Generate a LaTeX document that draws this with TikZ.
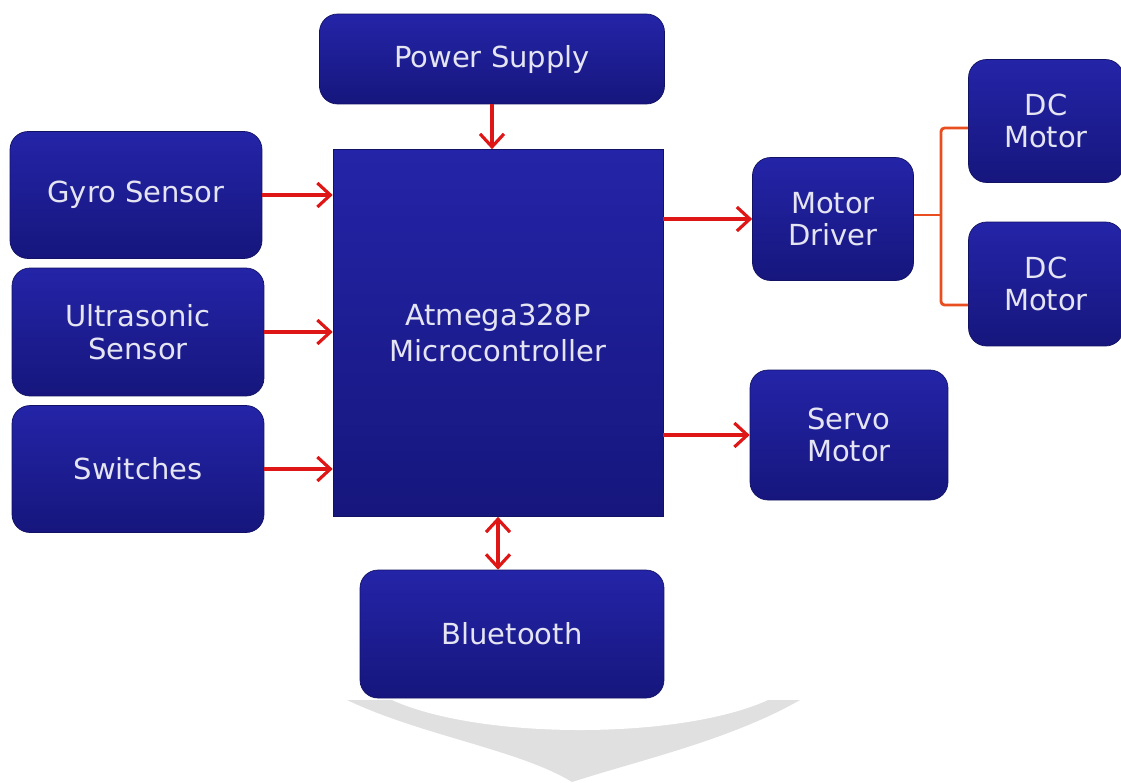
\documentclass[tikz,border=0pt]{standalone}
\usepackage{fontspec}
\setmainfont{DejaVu Sans}
\usepackage{tikz}
\usetikzlibrary{positioning,arrows.meta}

\definecolor{boxtop}{RGB}{36,36,168}
\definecolor{boxbot}{RGB}{22,22,125}
\definecolor{boxtext}{RGB}{228,228,242}
\definecolor{arrowred}{RGB}{222,22,22}
\definecolor{wireorange}{RGB}{232,78,32}

\begin{document}
\begin{tikzpicture}[
			x=0.02cm, y=-0.02cm,
			block/.style={
					draw=boxbot!80!black,
					rounded corners=0.36cm,
					top color=boxtop,
					bottom color=boxbot,
					text=boxtext,
					align=center,
					font=\fontsize{16.5}{18.5}\selectfont,
					inner sep=0pt
				},
			barb/.tip={Straight Barb[length=2.6mm,width=4.8mm,line width=1.8pt]},
			flow/.style={
					draw=arrowred,
					line width=1.8pt,
					-barb
				},
			wire/.style={
					draw=wireorange,
					line width=1.6pt,
					rounded corners=2pt
				}
		]

		\useasboundingbox (0,0) rectangle (1121,782);

		% shadow under the page
		\fill[black!12] (347,700) -- (800,700)
			.. controls (730,740) and (640,760) .. (572,782)
			.. controls (520,750) and (420,735) .. (347,700) -- cycle;
		\fill[white] (392,700) .. controls (480,740) and (680,740) .. (768,700) -- cycle;

		\node (power) [block, minimum width=6.9cm, minimum height=1.8cm]
		at (492,59) {Power Supply};

		\node (mcu) [block, rounded corners=0pt,
			minimum width=6.6cm, minimum height=7.34cm]
		at (498,333) {Atmega328P\\[2pt]Microcontroller};

		\node (gyro) [block, minimum width=5.04cm, minimum height=2.54cm]
		at (136,195) {Gyro Sensor};

		\node (ultra) [block, minimum width=5.04cm, minimum height=2.56cm]
		at (138,332) {Ultrasonic\\Sensor};

		\node (switches) [block, minimum width=5.04cm, minimum height=2.54cm]
		at (138,469) {Switches};

		\node (driver) [block, minimum width=3.22cm, minimum height=2.46cm]
		at (833,219) {Motor\\Driver};

		\node (dcone) [block, minimum width=3.1cm, minimum height=2.46cm]
		at (1046,121) {DC\\Motor};

		\node (dctwo) [block, minimum width=3.1cm, minimum height=2.48cm]
		at (1046,284) {DC\\Motor};

		\node (servo) [block, minimum width=3.96cm, minimum height=2.6cm]
		at (849,435) {Servo\\Motor};

		\node (bt) [block, minimum width=6.08cm, minimum height=2.56cm]
		at (512,634) {Bluetooth};

		\coordinate (split) at (941,215);

		\draw[flow] (power) -- (power |- mcu.north);
		\draw[flow] (gyro) -- (mcu.west |- gyro);
		\draw[flow] (ultra) -- (mcu.west |- ultra);
		\draw[flow] (switches) -- (mcu.west |- switches);
		\draw[flow] (mcu.east |- driver) -- (driver);
		\draw[flow] (mcu.east |- servo) -- (servo);
		\draw[flow, barb-barb] (mcu.south) -- (mcu.south |- bt.north);

		\draw[wire] (driver.east |- split) -- (split);
		\draw[wire] (split) |- (dcone.west |- 0,128);
		\draw[wire] (split) |- (dctwo.west |- 0,305);

	\end{tikzpicture}
\end{document}
